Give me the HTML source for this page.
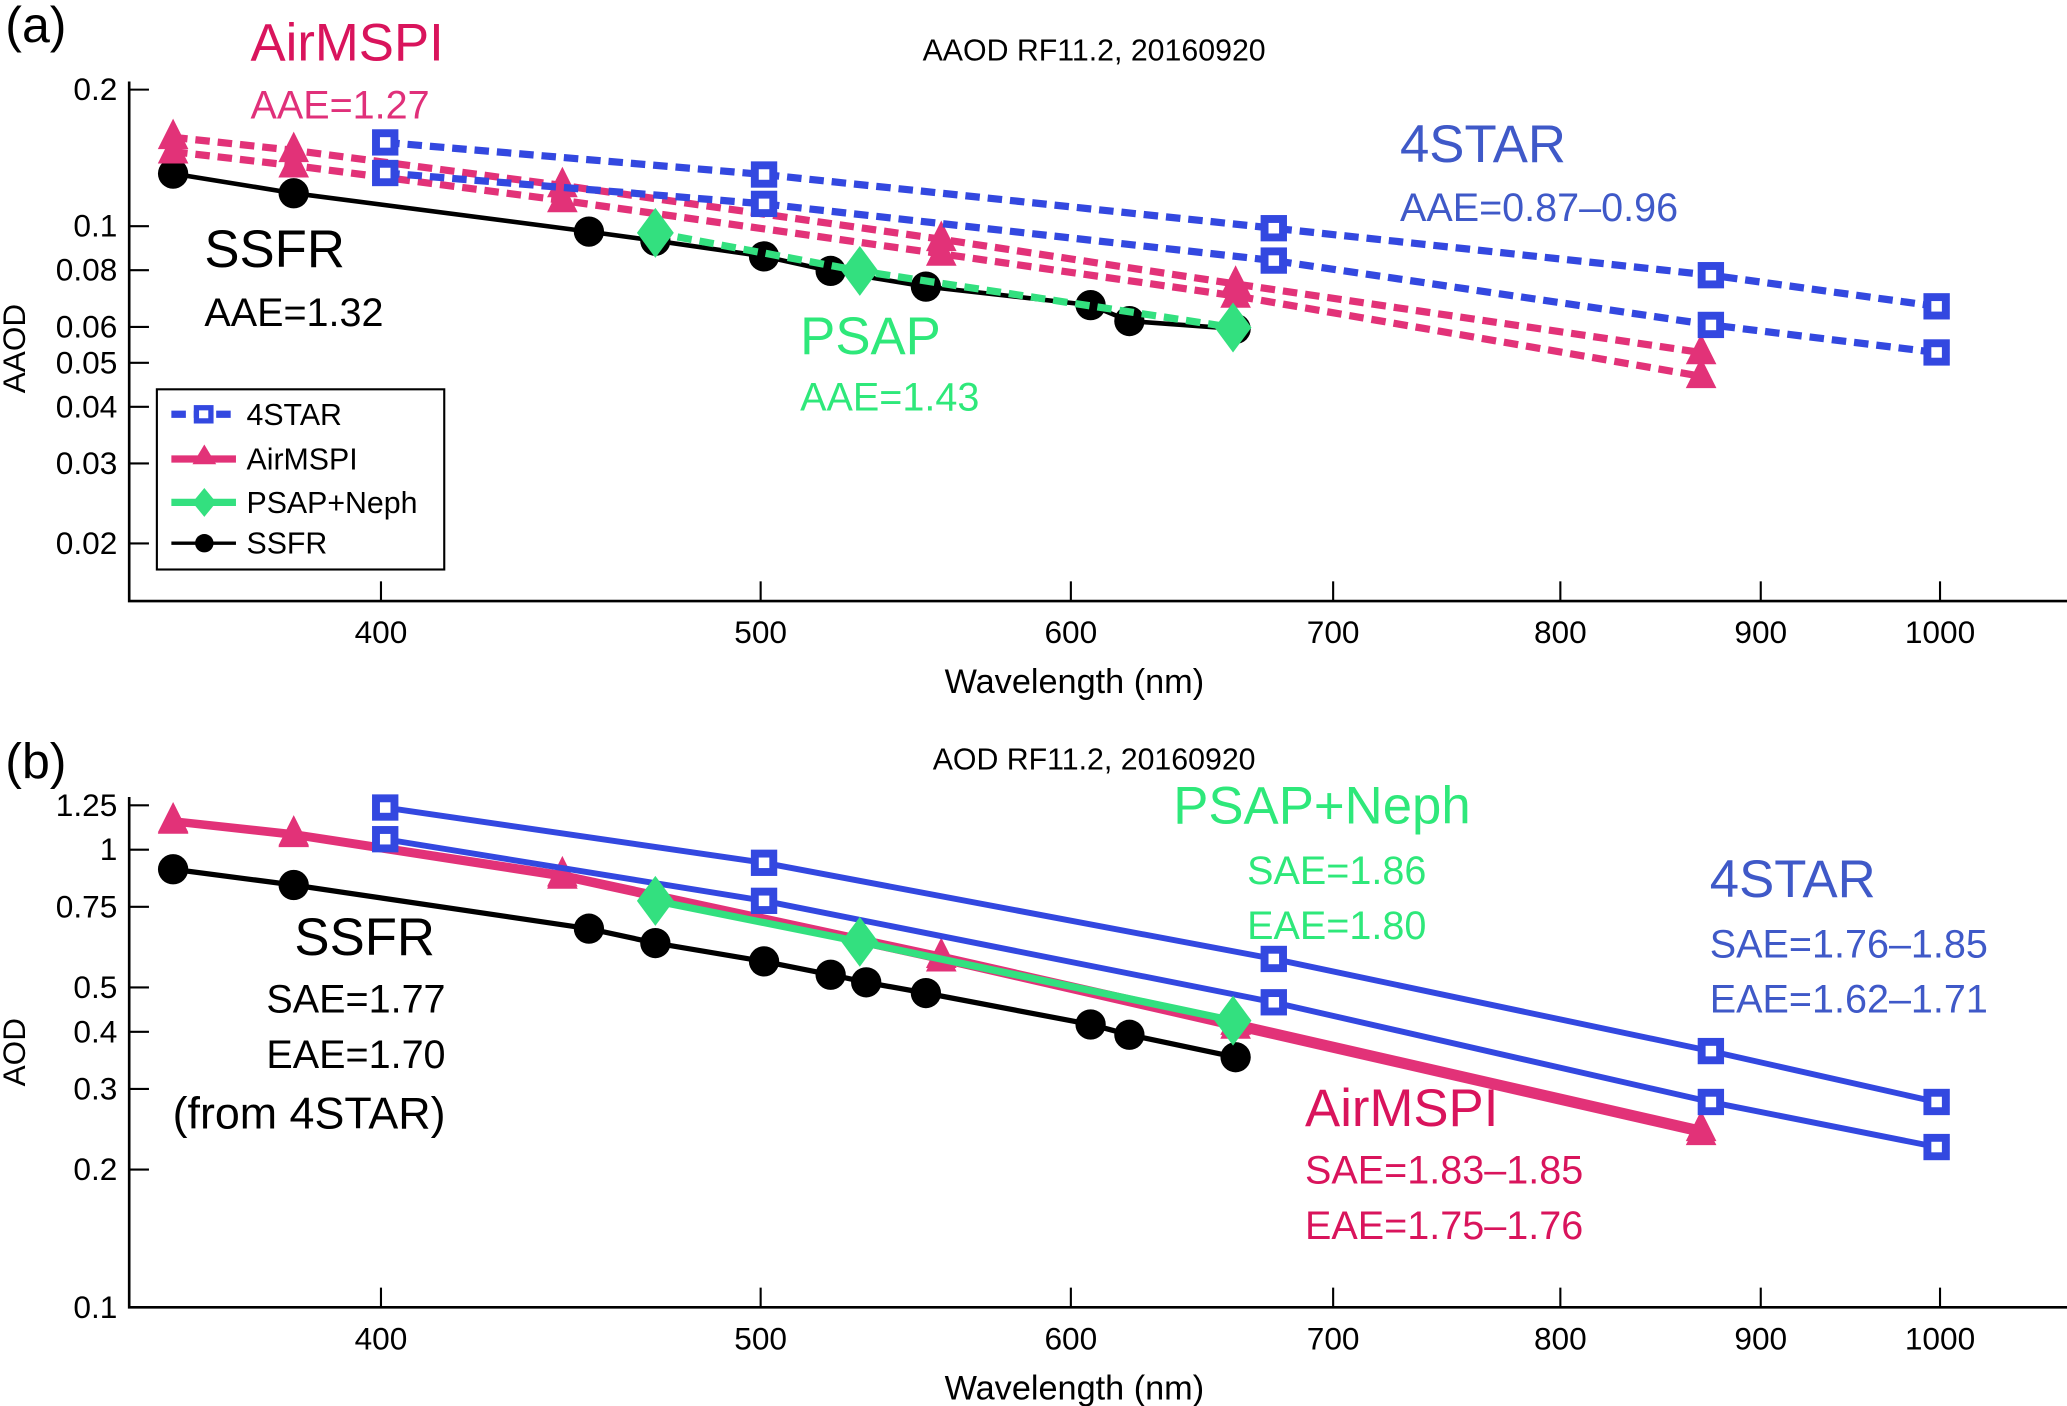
<!DOCTYPE html>
<html><head><meta charset="utf-8"><style>
html,body{margin:0;padding:0;background:#fff;}
svg{display:block;font-family:"Liberation Sans",sans-serif;}
</style></head><body>
<svg id="fig" width="2067" height="1406" viewBox="0 0 1568 1069" preserveAspectRatio="none" xmlns="http://www.w3.org/2000/svg"></svg>
<script>
// ---- data ----
const xTicks = [400,500,600,700,800,900,1000];
const aTicks = [0.2,0.1,0.08,0.06,0.05,0.04,0.03,0.02];
const aTickLabels = ["0.2","0.1","0.08","0.06","0.05","0.04","0.03","0.02"];
const bTicks = [1.25,1,0.75,0.5,0.4,0.3,0.2,0.1];
const bTickLabels = ["1.25","1","0.75","0.5","0.4","0.3","0.2","0.1"];

const starWl = [401,501,676,874,998];
const airWl = [354,380,445,556,661,869];
const psapWl = [470,530,660];
const ssfrWlA = [354,380,452,470,501,521,551,607,621,661];
const ssfrWlB = [354,380,452,470,501,521,532,551,607,621,661];

const aStarHi = [0.153,0.130,0.099,0.078,0.0666];
const aStarLo = [0.131,0.112,0.084,0.0606,0.0527];
const aAirHi = [0.157,0.147,0.123,0.0936,0.0746,0.0527];
const aAirLo = [0.146,0.136,0.114,0.0869,0.0702,0.0467];
const aPsap = [0.0967,0.0797,0.0598];
const aSsfr = [0.1306,0.1182,0.0973,0.0929,0.0858,0.0797,0.0736,0.0670,0.0618,0.0594];

const bStarHi = [1.236,0.936,0.577,0.363,0.281];
const bStarLo = [1.054,0.773,0.464,0.281,0.224];
const bAirHi = [1.157,1.083,0.882,0.585,0.418,0.245];
const bAirLo = [1.150,1.075,0.872,0.575,0.410,0.240];
const bPsap = [0.773,0.629,0.423];
const bSsfr = [0.906,0.837,0.672,0.625,0.570,0.533,0.513,0.486,0.415,0.394,0.352];

const BLUE="#3348e0", PINK="#e23278", GREEN="#33e07f";
const svg=document.getElementById('fig');
const NS="http://www.w3.org/2000/svg";
function mk(tag,attrs,parent){const e=document.createElementNS(NS,tag);for(const k in attrs)e.setAttribute(k,attrs[k]);(parent||svg).appendChild(e);return e;}
function X(l){return 289+2972*(Math.log10(l)-Math.log10(400));}
function YA(v){return 172-345*Math.log10(v/0.1);}
function YB(v){return 646-348*Math.log10(v);}

function axes(name,Y,ticks,labels,top,bottom,ytitle,ytitleY){
  const g=mk('g',{});
  
  
  const ax=mk('path',{d:`M98,${top} V${bottom} H1568`,stroke:'#000','stroke-width':2,fill:'none'},g);
  
  
  ticks.forEach((t,i)=>{
    const y=Y(t);
    const tk=mk('line',{x1:98,x2:113,y1:y,y2:y,stroke:'#000','stroke-width':1.6},g);
    
    
    const tl=mk('text',{x:89,y:y+8,'text-anchor':'end','font-size':24},g);
    tl.textContent=labels[i];
    
    
  });
  xTicks.forEach(t=>{
    const x=X(t);
    const tk=mk('line',{x1:x,x2:x,y1:bottom,y2:bottom-15,stroke:'#000','stroke-width':1.6},g);
    
    
    const tl=mk('text',{x:x,y:bottom+32,'text-anchor':'middle','font-size':24},g);
    tl.textContent=String(t);
    
    
  });
  const xt=mk('text',{x:815,y:bottom+70,'text-anchor':'middle','font-size':26},g);
  xt.textContent='Wavelength (nm)';
  
  
  const yt=mk('text',{x:0,y:0,'text-anchor':'middle','font-size':24,transform:`translate(19,${ytitleY}) rotate(-90)`},g);
  yt.textContent=ytitle;
  
  
}

function marker(type,x,y,color,g){
  let m;
  if(type==='sq'){m=mk('rect',{x:x-7,y:y-7,width:14,height:14,fill:'#fff',stroke:color,'stroke-width':6},g);}
  else if(type==='tri'){m=mk('path',{d:`M${x},${y-12} L${x+10},${y+8} L${x-10},${y+8} Z`,fill:color,stroke:color,'stroke-width':2},g);}
  else if(type==='dia'){m=mk('path',{d:`M${x},${y-19} L${x+14},${y} L${x},${y+19} L${x-14},${y} Z`,fill:color},g);}
  else {m=mk('circle',{cx:x,cy:y,r:11.5,fill:'#000'},g);}
  
  
}

function series(name,wl,vals,Y,color,width,dash,mtype){
  const g=mk('g',{});
  
  
  const pts=wl.map((w,i)=>X(w).toFixed(1)+','+Y(vals[i]).toFixed(1)).join(' ');
  const attrs={points:pts,fill:'none',stroke:color,'stroke-width':width,'stroke-linejoin':'round'};
  if(dash)attrs['stroke-dasharray']=dash;
  const l=mk('polyline',attrs,g);
  
  
  wl.forEach((w,i)=>marker(mtype,X(w),Y(vals[i]),color,g));
}

function txt(name,s,x,y,size,color,anchor){
  const t=mk('text',{x:x,y:y,'font-size':size,fill:color||'#000','text-anchor':anchor||'start'});
  t.textContent=s;
  
  
}

// Panel a
axes('panel-a-axes',YA,aTicks,aTickLabels,62,457,'AAOD',265);
series('a-ssfr',ssfrWlA,aSsfr,YA,'#000',3.5,null,'circ');
series('a-airmspi-hi',airWl,aAirHi,YA,PINK,5.5,'11,6','tri');
series('a-airmspi-lo',airWl,aAirLo,YA,PINK,5.5,'11,6','tri');
series('a-4star-hi',starWl,aStarHi,YA,BLUE,5.5,'11,6','sq');
series('a-4star-lo',starWl,aStarLo,YA,BLUE,5.5,'11,6','sq');
series('a-psap',psapWl,aPsap,YA,GREEN,5.5,'11,6','dia');

// Panel b
axes('panel-b-axes',YB,bTicks,bTickLabels,606,994,'AOD',800);
series('b-ssfr',ssfrWlB,bSsfr,YB,'#000',4,null,'circ');
series('b-airmspi-hi',airWl,bAirHi,YB,PINK,5.5,null,'tri');
series('b-airmspi-lo',airWl,bAirLo,YB,PINK,5.5,null,'tri');
series('b-4star-hi',starWl,bStarHi,YB,BLUE,4.5,null,'sq');
series('b-4star-lo',starWl,bStarLo,YB,BLUE,4.5,null,'sq');
series('b-psap',psapWl,bPsap,YB,GREEN,5.5,null,'dia');

// Legend (panel a)
const lg=mk('g',{});


const lb=mk('rect',{x:119,y:296,width:218,height:137,fill:'#fff',stroke:'#000','stroke-width':1.6},lg);


const legNames=['4STAR','AirMSPI','PSAP+Neph','SSFR'];
const legCols=[BLUE,PINK,GREEN,'#000'];
const legTypes=['sq','tri','dia','circ'];
const legY=[315,349,382,413];
legNames.forEach((n,i)=>{
  const eg=mk('g',{},lg);
  
  
  const ln=mk('line',{x1:130,x2:179,y1:legY[i],y2:legY[i],stroke:legCols[i],'stroke-width':i==3?2.5:5.5,'stroke-dasharray':i==0?'11,6':''},eg);
  
  
  if(legTypes[i]==='circ'){const c=mk('circle',{cx:155,cy:legY[i],r:7,fill:'#000'},eg);}
  else if(legTypes[i]==='dia'){const c=mk('path',{d:`M155,${legY[i]-11} L164,${legY[i]} L155,${legY[i]+11} L146,${legY[i]} Z`,fill:GREEN},eg);}
  else if(legTypes[i]==='tri'){const c=mk('path',{d:`M155,${legY[i]-11} L164,${legY[i]+4} L146,${legY[i]+4} Z`,fill:PINK},eg);}
  else {const c=mk('rect',{x:149,y:legY[i]-5,width:11,height:10,fill:'#fff',stroke:BLUE,'stroke-width':4},eg);}
  const t=mk('text',{x:187,y:legY[i]+8,'font-size':23},eg);
  t.textContent=n;
  
  
});

// Panel a annotations
txt('panel-a-label','(a)',4,32,38,'#000');
txt('chart-title-a','AAOD RF11.2, 20160920',830,46,23,'#000','middle');
txt('airmspi-annotation','AirMSPI',190,46,40,'#d9145c');
txt('airmspi-aae','AAE=1.27',190,90,30,'#e0307a');
txt('4star-annotation','4STAR',1062,123,40,'#3f59c8');
txt('4star-aae','AAE=0.87\u20130.96',1062,168,30,'#3f59c8');
txt('ssfr-annotation','SSFR',155,203,40,'#000');
txt('ssfr-aae','AAE=1.32',155,248,30,'#000');
txt('psap-annotation','PSAP',607,269,40,'#2ee87a');
txt('psap-aae','AAE=1.43',607,312,30,'#2ee87a');

// Panel b annotations
txt('panel-b-label','(b)',4,592,38,'#000');
txt('chart-title-b','AOD RF11.2, 20160920',830,585,23,'#000','middle');
txt('psapneph-annotation','PSAP+Neph',890,626,40,'#2ee87a');
txt('psapneph-sae','SAE=1.86',1082,672,30,'#2ee87a','end');
txt('psapneph-eae','EAE=1.80',1082,714,30,'#2ee87a','end');
txt('4star-annotation-b','4STAR',1297,682,40,'#3f59c8');
txt('4star-sae','SAE=1.76\u20131.85',1297,728,30,'#3f59c8');
txt('4star-eae','EAE=1.62\u20131.71',1297,770,30,'#3f59c8');
txt('ssfr-annotation-b','SSFR',330,726,40,'#000','end');
txt('ssfr-sae','SAE=1.77',338,770,30,'#000','end');
txt('ssfr-eae','EAE=1.70',338,812,30,'#000','end');
txt('ssfr-from','(from 4STAR)',338,858,34,'#000','end');
txt('airmspi-annotation-b','AirMSPI',990,856,40,'#d9145c');
txt('airmspi-sae','SAE=1.83\u20131.85',990,900,30,'#d9145c');
txt('airmspi-eae','EAE=1.75\u20131.76',990,942,30,'#d9145c');
</script>
</body></html>
